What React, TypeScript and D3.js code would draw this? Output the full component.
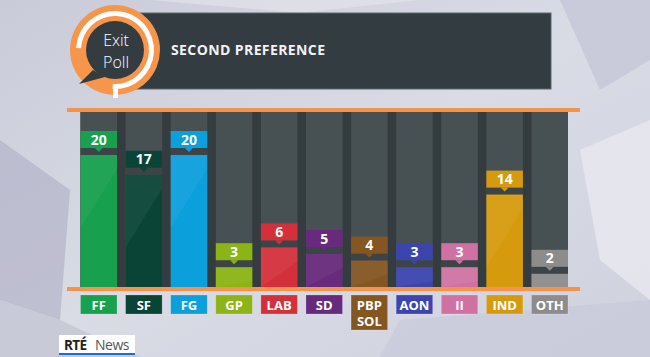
import React from "react";
import * as d3 from "d3";

const categories = ["FF", "SF", "FG", "GP", "LAB", "SD", "PBP SOL", "AON", "II", "IND", "OTH"];
const values = [20, 17, 20, 3, 6, 5, 4, 3, 3, 14, 2];
const colors = ["#17a04e", "#0a4437", "#0b9fdc", "#8cb414", "#d3303c", "#672a7c", "#845621", "#3c44ae", "#cf72a3", "#d69b0d", "#8c8c8c"];
const title = "SECOND PREFERENCE";

const W = 650, H = 357;
const FONT = "'Open Sans', 'DejaVu Sans', sans-serif";

export default function App() {
  const x = d3.scaleBand<string>().domain(categories).range([80.5, 568]).paddingInner(0.19).paddingOuter(0);
  const y = d3.scaleLinear().domain([0, 20]).range([287, 155]);
  const bw = x.bandwidth();

  const arc = d3.arc();
  const ring = arc({ innerRadius: 34, outerRadius: 39, startAngle: -Math.PI / 2 + 0.05, endAngle: Math.PI * 1.02 } as any) as string;

  return (
    <svg width={W} height={H} style={{ position: "absolute", left: 0, top: 0, fontFamily: FONT }}>
      <defs>
        <linearGradient id="bg" x1="0" y1="0" x2="1" y2="1">
          <stop offset="0" stopColor="#c9cbd9" />
          <stop offset="0.5" stopColor="#d9dbe5" />
          <stop offset="1" stopColor="#cfd1de" />
        </linearGradient>
      </defs>
      <rect width={W} height={H} fill="url(#bg)" />
      <polygon points="0,140 70,190 60,320 0,300" fill="#b3b4c9" opacity={0.7} />
      <polygon points="0,300 60,320 140,357 0,357" fill="#c4c5d5" opacity={0.8} />
      <polygon points="580,150 650,120 650,300 600,260" fill="#e8e9f0" opacity={0.8} />
      <polygon points="560,0 650,0 650,60 600,90" fill="#c3c5d5" opacity={0.7} />
      <polygon points="150,0 420,0 300,13" fill="#e2e3ea" opacity={0.7} />
      <polygon points="400,320 650,300 650,357 380,357" fill="#c7c8d8" opacity={0.6} />

      {/* header box */}
      <rect x={100} y={13} width={451} height={76} fill="#333c41" stroke="#5d666b" strokeWidth={1} />
      <text x={171} y={55} fill="#f2f2f2" fontSize={14} fontWeight={700} letterSpacing={0.4}>{title}</text>

      {/* logo */}
      <g transform="translate(115,50)">
        <circle r={45} fill="#f7964b" />
        <path d={ring} fill="#ffffff" />
        <rect x={-2} y={38} width={5} height={10} fill="#ffffff" />
        <path d="M -22 20 L -36 34 L -10 27 Z" fill="#333c41" />
        <circle r={29} fill="#333c41" />
        <text x={1} y={-4} textAnchor="middle" fill="#ffffff" fontSize={16} fontWeight={300}>Exit</text>
        <text x={1} y={18} textAnchor="middle" fill="#ffffff" fontSize={16} fontWeight={300}>Poll</text>
      </g>

      {/* chart background */}
      <rect x={80.5} y={112} width={568 - 80.5} height={175} fill="#343c40" />
      {categories.map((c) => (
        <rect key={"col" + c} x={x(c)} y={112} width={bw} height={175} fill="#475053" />
      ))}

      {/* bars & labels */}
      {categories.map((c, i) => {
        const x0 = x(c) as number;
        const yt = y(values[i]);
        const boxBottom = yt - 7;
        const boxTop = yt - 24;
        const cx = x0 + bw / 2;
        return (
          <g key={"bar" + c}>
            <rect x={x0} y={boxBottom} width={bw} height={7} fill="#3c4447" />
            <rect x={x0} y={yt} width={bw} height={287 - yt} fill={colors[i]} />
            <polygon points={`${x0},${yt} ${x0 + bw},${yt} ${x0 + bw},${yt + 14} ${x0},${Math.min(287, yt + 14 + bw * 1.6)}`} fill="#ffffff" opacity={0.05} />
            <rect x={x0} y={boxTop} width={bw} height={17} fill={colors[i]} />
            <polygon points={`${cx - 4},${boxBottom} ${cx + 4},${boxBottom} ${cx},${boxBottom + 4}`} fill={colors[i]} />
            <text x={cx} y={boxTop + 13.5} textAnchor="middle" fill="#ffffff" fontSize={14} fontWeight={700}>{values[i]}</text>
          </g>
        );
      })}

      {/* orange lines */}
      <rect x={67} y={108} width={513} height={4} fill="#f5934a" />
      <rect x={67} y={287} width={513} height={4} fill="#f5934a" />

      {/* category labels */}
      {categories.map((c, i) => {
        const x0 = x(c) as number;
        const lines = c.split(" ");
        const h = lines.length > 1 ? 35 : 19;
        return (
          <g key={"cat" + c}>
            <rect x={x0} y={295} width={bw} height={h} fill={colors[i]} stroke="#ffffff" strokeOpacity={0.25} strokeWidth={0.8} />
            {lines.map((l, j) => (
              <text key={l} x={x0 + bw / 2} y={309.5 + j * 16.5} textAnchor="middle" fill="#ffffff" fontSize={13} fontWeight={700}>{l}</text>
            ))}
          </g>
        );
      })}

      {/* RTE News */}
      <rect x={59} y={335} width={76} height={20} fill="#ffffff" />
      <rect x={59} y={353} width={76} height={2} fill="#1f6fd1" />
      <text x={64} y={350} fill="#222" fontSize={13.5} fontWeight={700} letterSpacing={-0.6}>RTÉ</text>
      <text x={95} y={350} fill="#555" fontSize={14} fontWeight={400} letterSpacing={-0.5}>News</text>
    </svg>
  );
}
